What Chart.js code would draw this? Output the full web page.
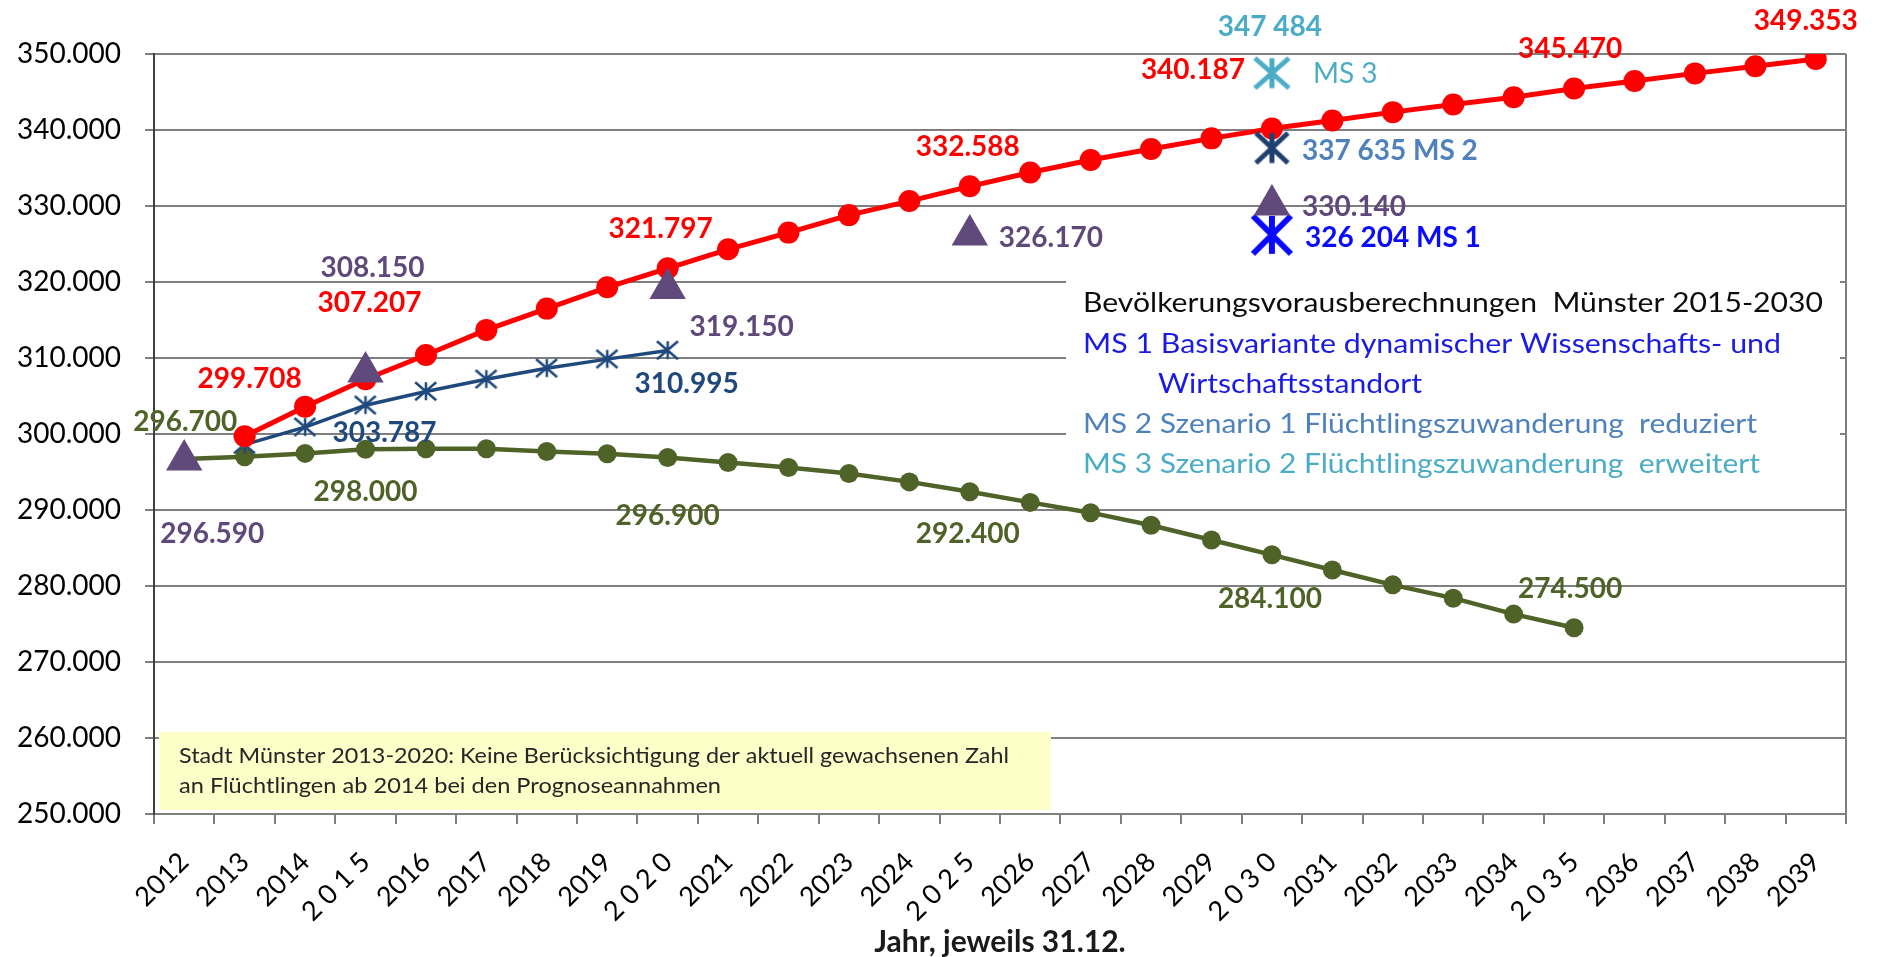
<!DOCTYPE html>
<html>
<head>
<meta charset="utf-8">
<script src="https://cdn.jsdelivr.net/npm/chart.js@4.4.1/dist/chart.umd.min.js"></script>
<style>
    html, body { margin: 0; padding: 0; background: #fff; }
    #wrap { width: 1881px; height: 957px; position: relative; }
</style>
</head>
<body>
<div id="wrap"><canvas id="prognoseChart"></canvas></div>
<script>
const years = ['2012', '2013', '2014', '2 0 1 5', '2016', '2017', '2018', '2019', '2 0 2 0', '2021',
    '2022', '2023', '2024', '2 0 2 5', '2026', '2027', '2028', '2029', '2 0 3 0', '2031',
    '2032', '2033', '2034', '2 0 3 5', '2036', '2037', '2038', '2039'];
const firstYear = 2012;

// Prognose (rot), 2013-2039
const redValues = [null, 299708, 303600, 307207, 310400, 313700, 316500, 319300, 321797, 324300,
    326500, 328800, 330650, 332588, 334400, 336050, 337500, 338900, 340187, 341250,
    342350, 343350, 344300, 345470, 346450, 347450, 348400, 349353];
// Stadt Münster 2013-2020 (blau)
const blueValues = [null, 298600, 300900, 303787, 305600, 307200, 308650, 309850, 310995, null,
    null, null, null, null, null, null, null, null, null, null,
    null, null, null, null, null, null, null, null];
// Prognose (grün), 2012-2035
const greenValues = [296700, 297000, 297450, 298000, 298050, 298050, 297700, 297400, 296900, 296250,
    295600, 294800, 293700, 292400, 291000, 289650, 288000, 286050, 284100, 282100,
    280150, 278400, 276300, 274500, null, null, null, null];
// Dreiecke
const triangleValues = [296590, null, null, 308150, null, null, null, null, 319150, null,
    null, null, null, 326170, null, null, null, null, 330140, null,
    null, null, null, null, null, null, null, null];
// Bevölkerungsvorausberechnungen Münster 2030
const ms1Values = years.map((y, i) => i === 18 ? 326204 : null);
const ms2Values = years.map((y, i) => i === 18 ? 337635 : null);
const ms3Values = years.map((y, i) => i === 18 ? 347484 : null);

const yMin = 250000;
const yMax = 350000;
const yStep = 10000;

const legendLines = [
    {text: 'Bevölkerungsvorausberechnungen  Münster 2015-2030', color: '#0d0d0d', x: 0, y: 312, w: 740},
    {text: 'MS 1 Basisvariante dynamischer Wissenschafts- und', color: '#1a1ae6', x: 0, y: 353, w: 698},
    {text: 'Wirtschaftsstandort', color: '#1a1ae6', x: 75, y: 393, w: 264},
    {text: 'MS 2 Szenario 1 Flüchtlingszuwanderung  reduziert', color: '#4f81bd', x: 0, y: 433, w: 674},
    {text: 'MS 3 Szenario 2 Flüchtlingszuwanderung  erweitert', color: '#4bacc6', x: 0, y: 473, w: 677}
];
const noteLines = [
    {text: 'Stadt Münster 2013-2020: Keine Berücksichtigung der aktuell gewachsenen Zahl', y: 763, w: 830},
    {text: 'an Flüchtlingen ab 2014 bei den Prognoseannahmen', y: 793, w: 542}
];

const valueLabels = [
    {ds: 'red', year: 2013, dx: 5, dy: -58},
    {ds: 'red', year: 2015, dx: 4, dy: -77},
    {ds: 'red', year: 2020, dx: -7, dy: -40},
    {ds: 'red', year: 2025, dx: -2, dy: -40},
    {ds: 'red', year: 2030, dx: -79, dy: -60},
    {ds: 'red', year: 2035, dx: -4, dy: -40},
    {ds: 'red', year: 2039, dx: -10, dy: -39},
    {ds: 'green', year: 2012, dx: 1, dy: -38},
    {ds: 'green', year: 2015, dx: 0, dy: 42},
    {ds: 'green', year: 2020, dx: 0, dy: 57},
    {ds: 'green', year: 2025, dx: -2, dy: 41},
    {ds: 'green', year: 2030, dx: -2, dy: 43},
    {ds: 'green', year: 2035, dx: -4, dy: -40},
    {ds: 'tri', year: 2012, dx: 28, dy: 73},
    {ds: 'tri', year: 2015, dx: 7, dy: -105},
    {ds: 'tri', year: 2020, dx: 74, dy: 38},
    {ds: 'tri', year: 2025, dx: 29, dy: 2, align: 'left'},
    {ds: 'tri', year: 2030, dx: 30, dy: 1, align: 'left'},
    {ds: 'blue', year: 2015, dx: 19, dy: 27},
    {ds: 'blue', year: 2020, dx: 19, dy: 33},
    {ds: 'ms3', year: 2030, dx: -2, dy: -47, sep: ' '},
    {ds: 'ms3', year: 2030, dx: 41, dy: 0, align: 'left', text: 'MS 3', weight: 'normal'},
    {ds: 'ms2', year: 2030, dx: 30, dy: 2, align: 'left', sep: ' ', suffix: ' MS 2', color: '#4f81bd'},
    {ds: 'ms1', year: 2030, dx: 33, dy: 2, align: 'left', sep: ' ', suffix: ' MS 1', color: '#0a0aff'}
];

const FONT = 'Lato, "Open Sans", sans-serif';

function fmt(v, sep) {
    return String(Math.round(v)).replace(/\B(?=(\d{3})+(?!\d))/g, sep);
}

function makeStar(color, w, h, lw) {
    const c = document.createElement('canvas');
    c.width = Math.ceil(w + lw);
    c.height = Math.ceil(h + lw);
    const g = c.getContext('2d');
    g.strokeStyle = color;
    g.lineWidth = lw;
    const x0 = lw / 2, y0 = lw / 2, x1 = x0 + w, y1 = y0 + h, cx = c.width / 2;
    g.beginPath();
    g.moveTo(x0, y0); g.lineTo(x1, y1);
    g.moveTo(x1, y0); g.lineTo(x0, y1);
    g.moveTo(cx, y0); g.lineTo(cx, y1);
    g.stroke();
    return c;
}

function fitText(ctx, text, x, y, width) {
    const w = ctx.measureText(text).width;
    ctx.save();
    ctx.translate(x, y);
    if (width) ctx.scale(width / w, 1);
    ctx.textAlign = 'left';
    ctx.textBaseline = 'alphabetic';
    ctx.fillText(text, 0, 0);
    ctx.restore();
}

const boxesPlugin = {
    id: 'boxes',
    beforeDatasetsDraw(chart) {
        const ctx = chart.ctx;
        const a = chart.chartArea;
        ctx.save();
        // right border of plot area
        ctx.strokeStyle = '#7f7f7f';
        ctx.lineWidth = 2;
        ctx.beginPath();
        ctx.moveTo(a.right, a.top);
        ctx.lineTo(a.right, a.bottom);
        ctx.stroke();

        // white legend box
        const lx = 1083;
        ctx.fillStyle = '#ffffff';
        ctx.fillRect(1066, 262, a.right - 6 - 1066, 220);
        ctx.font = '27px ' + FONT;
        legendLines.forEach(l => {
            ctx.fillStyle = l.color;
            fitText(ctx, l.text, lx + l.x, l.y, l.w);
        });

        // yellow note box
        ctx.fillStyle = '#fefec9';
        ctx.fillRect(a.left + 5, 732, 892, 78);
        ctx.fillStyle = '#262626';
        ctx.font = '22px ' + FONT;
        noteLines.forEach(l => fitText(ctx, l.text, a.left + 25, l.y, l.w));
        ctx.restore();
    }
};

const labelsPlugin = {
    id: 'valueLabels',
    afterDatasetsDraw(chart) {
        const ctx = chart.ctx;
        ctx.save();
        valueLabels.forEach(l => {
            const dsIndex = chart.data.datasets.findIndex(d => d.key === l.ds);
            const ds = chart.data.datasets[dsIndex];
            const idx = l.year - firstYear;
            const value = ds.data[idx];
            const pt = chart.getDatasetMeta(dsIndex).data[idx];
            const text = l.text || (fmt(value, l.sep || '.') + (l.suffix || ''));
            ctx.font = (l.weight || 'bold') + ' 28px ' + FONT;
            ctx.fillStyle = l.color || ds.labelColor;
            ctx.textAlign = l.align || 'center';
            ctx.textBaseline = 'alphabetic';
            ctx.fillText(text, pt.x + l.dx, pt.y + l.dy + 10);
        });
        ctx.restore();
    }
};

document.addEventListener("DOMContentLoaded", function () {
    const ctxPrognose = document.getElementById('prognoseChart');
    new Chart(ctxPrognose, {
        type: 'line',
        data: {
            labels: years,
            datasets: [
                {
                    key: 'tri', label: 'Bevölkerung', data: triangleValues, showLine: false,
                    pointStyle: 'triangle', pointRadius: 21, backgroundColor: '#604a7b',
                    borderColor: '#604a7b', pointBorderWidth: 0, labelColor: '#5f497a'
                },
                {
                    key: 'ms3', label: 'MS 3', data: ms3Values, showLine: false,
                    pointStyle: makeStar('#4bacc6', 34, 30, 5), pointRadius: 18, labelColor: '#4bacc6'
                },
                {
                    key: 'ms2', label: 'MS 2', data: ms2Values, showLine: false,
                    pointStyle: makeStar('#1f3f6e', 32, 30, 5), pointRadius: 18, labelColor: '#4f81bd'
                },
                {
                    key: 'ms1', label: 'MS 1', data: ms1Values, showLine: false,
                    pointStyle: makeStar('#0a0aff', 38, 38, 6), pointRadius: 20, labelColor: '#0a0aff'
                },
                {
                    key: 'red', label: 'Prognose', data: redValues, borderColor: '#ff0000',
                    backgroundColor: '#ff0000', borderWidth: 5, pointRadius: 11, pointBorderWidth: 0,
                    tension: 0, labelColor: '#ff0000'
                },
                {
                    key: 'blue', label: 'Stadt Münster', data: blueValues, borderColor: '#1f497d',
                    backgroundColor: '#1f497d', borderWidth: 3.5, pointStyle: makeStar('#1f497d', 21, 18, 2.5),
                    pointRadius: 10, tension: 0, labelColor: '#1f497d'
                },
                {
                    key: 'green', label: 'Prognose 2', data: greenValues, borderColor: '#4f6228',
                    backgroundColor: '#4f6228', borderWidth: 4.5, pointRadius: 9.5, pointBorderWidth: 0,
                    tension: 0, labelColor: '#4f6228'
                }
            ]
        },
        options: {
            responsive: true,
            maintainAspectRatio: false,
            animation: false,
            layout: {padding: {top: 54, right: 35, left: 0, bottom: 0}},
            plugins: {
                legend: {display: false},
                tooltip: {enabled: false}
            },
            scales: {
                x: {
                    offset: true,
                    grid: {offset: true, drawOnChartArea: false, drawTicks: true, tickLength: 10, color: '#7f7f7f', lineWidth: 2},
                    border: {color: '#7f7f7f', width: 2},
                    ticks: {autoSkip: false, maxRotation: 45, minRotation: 45, color: '#000', padding: 22,
                        font: {family: FONT, size: 27}},
                    title: {display: true, text: 'Jahr, jeweils 31.12.', color: '#1a1a1a',
                        font: {family: FONT, size: 30, weight: 'bold', lineHeight: 1}, padding: {top: 0, bottom: 0}},
                    afterFit: function (scale) { scale.height = 143; }
                },
                y: {
                    min: yMin,
                    max: yMax,
                    ticks: {stepSize: yStep, color: '#000', padding: 24, font: {family: FONT, size: 28},
                        callback: v => fmt(v, '.')},
                    grid: {color: '#7f7f7f', lineWidth: 2, tickLength: 9},
                    border: {color: '#404040', width: 2},
                    afterFit: function (scale) { scale.width = 154; }
                }
            }
        },
        plugins: [boxesPlugin, labelsPlugin]
    });
});
</script>
</body>
</html>
